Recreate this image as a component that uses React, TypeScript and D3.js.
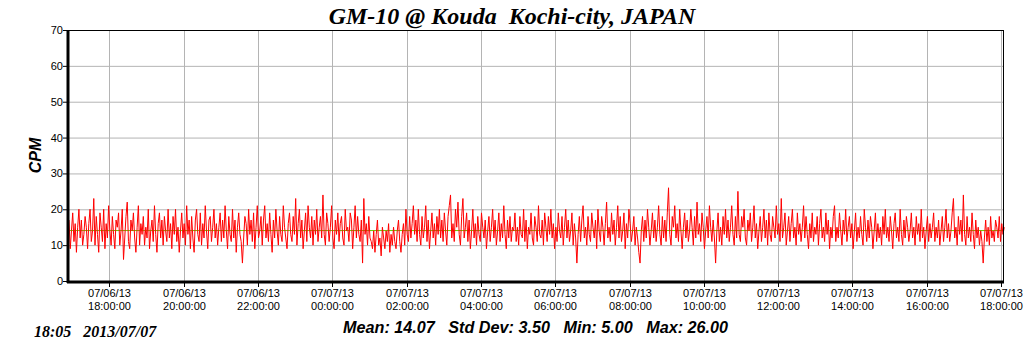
import React from "react";
import * as d3 from "d3";

// CPM readings, one every 2 minutes from 07/06/13 16:55 to 07/07/13 18:05
const cpm1655 = [17,9,14,19,11,16,8,15,20,12,17,10,13,18,15,9,16,20,11,14,23,10,18,13,8,19,15,11,20,9,16,12,21,14,10,18,13,9,17,15,19,10,14,20,6,12,18,22,11,9,17,14,19,12,8,15,21,10,16,13];
const cpm1855 = [18,10,15,12,20,9,14,17,11,21,13,8,16,19,12,17,10,18,14,11,20,12,16,9,18,13,20,11,15,8,14,19,12,16,10,21,13,17,9,18,12,8,17,20,13,11,19,10,16,12,21,14,9,17,18,11,15,20,12,16];
const cpm2055 = [10,15,19,11,17,12,21,14,9,18,13,11,20,12,17,8,15,19,13,11,5,12,18,16,10,20,13,17,11,19,9,15,21,12,14,18,10,17,21,12,16,11,19,13,8,17,12,20,14,10,18,13,11,21,15,12,9,16,19,13];
const cpm2255 = [11,18,13,23,10,16,20,12,17,9,14,19,11,21,15,12,18,10,17,13,20,11,15,18,12,24,13,10,19,16,11,15,21,12,9,17,13,19,11,16,18,12,10,20,14,15,11,19,17,9,15,21,12,18,13,11,17,5,23,13];
const cpm0055 = [16,10,18,12,11,9,14,8,13,17,10,12,7,15,12,9,14,11,16,8,13,10,15,11,9,14,17,11,8,13,16,10,20,13,11,18,12,16,21,13,17,11,20,13,10,18,12,15,21,11,17,9,14,19,12,16,10,18,13,20];
const cpm0255 = [12,17,11,19,14,10,18,21,24,12,16,11,20,15,22,13,10,18,23,12,15,19,11,17,9,14,20,12,16,10,18,13,11,19,15,12,17,9,14,18,11,15,20,12,17,10,14,19,11,16,12,21,13,9,17,12,18,11,15,14];
const cpm0455 = [19,11,15,10,18,13,12,20,11,17,9,15,13,19,12,10,18,15,11,21,13,12,17,10,19,15,11,18,13,20,12,16,9,15,11,19,14,12,18,10,15,20,12,17,11,14,19,10,16,12,5,13,18,11,17,21,12,15,10,18];
const cpm0655 = [13,11,19,15,12,17,9,20,14,11,18,15,10,16,22,12,15,11,19,13,17,10,15,21,12,18,11,14,19,9,16,12,20,16,11,14,18,10,15,12,8,5,14,18,11,17,12,20,15,10,14,19,12,17,11,15,21,13,10,18];
const cpm0855 = [12,17,11,19,26,13,10,18,15,21,12,16,11,20,14,9,15,19,12,17,11,14,20,15,10,18,12,22,13,16,11,19,15,9,14,18,12,21,15,11,17,12,5,14,19,11,15,10,18,13,20,12,17,11,15,21,13,10,18,12];
const cpm1055 = [25,13,11,18,15,20,12,10,17,14,19,11,15,21,12,16,9,14,18,11,15,20,12,17,10,19,13,11,18,15,12,21,13,16,11,23,12,15,19,10,14,18,11,16,20,12,15,10,19,13,16,11,15,21,12,18,13,9,16,12];
const cpm1255 = [19,11,15,13,18,10,16,20,12,15,11,19,13,17,9,15,12,18,21,11,15,12,19,14,10,17,13,20,11,15,18,12,16,9,14,19,11,15,12,18,13,10,20,15,11,17,12,18,15,9,14,19,11,16,12,15,10,18,13,20];
const cpm1455 = [12,15,11,18,14,9,16,19,12,15,11,20,13,10,17,12,18,15,11,14,19,12,15,10,18,13,16,11,20,12,15,9,14,18,11,16,12,15,19,11,15,12,17,10,14,18,11,15,20,12,16,11,14,19,23,12,15,10,18,13];
const cpm1655b = [17,11,24,13,10,18,12,15,11,19,13,9,17,12,15,10,14,11,5,12,17,11,15,10,18,12,14,11,17,15,12,18,11,16,13,15];

const yTicks = [0, 10, 20, 30, 40, 50, 60, 70];
const meanCpm = 14.07;
const titleText = "GM-10 @ Kouda  Kochi-city, JAPAN";
const stampText = "18:05   2013/07/07";
const statsText = "Mean: 14.07   Std Dev: 3.50   Min: 5.00   Max: 26.00";

const startTime = new Date(2013, 6, 6, 16, 55);
const endTime = new Date(2013, 6, 7, 18, 3);

export default function App() {
  const left = 69, right = 1003, top = 30, bottom = 281;

  const values = [
    ...cpm1655, ...cpm1855, ...cpm2055, ...cpm2255, ...cpm0055, ...cpm0255, ...cpm0455,
    ...cpm0655, ...cpm0855, ...cpm1055, ...cpm1255, ...cpm1455, ...cpm1655b,
  ];
  const data = values.map((v, i) => ({ t: d3.timeMinute.offset(startTime, i * 2), v }));

  const x = d3.scaleTime().domain([startTime, endTime]).range([left, right]);
  const y = d3.scaleLinear().domain([0, 70]).range([bottom, top]);

  const xTicks = d3.timeHour.every(2)!.range(d3.timeHour.offset(startTime, 1), endTime);
  const fmtDate = d3.timeFormat("%m/%d/%y");
  const fmtTime = d3.timeFormat("%H:%M:%S");

  const line = d3
    .line<{ t: Date; v: number }>()
    .x((d) => x(d.t))
    .y((d) => y(d.v));

  const sans = "Arial, 'Liberation Sans', sans-serif";
  const serif = "'Times New Roman', 'Liberation Serif', serif";

  return (
    <svg
      width={1024}
      height={351}
      style={{ position: "absolute", left: 0, top: 0, background: "#fff" }}
    >
      <rect width={1024} height={351} fill="#fff" />
      <text x={512} y={24} textAnchor="middle" fontFamily={serif} fontWeight="bold" fontStyle="italic" fontSize={24} style={{ whiteSpace: "pre" }}>
        {titleText}
      </text>

      {/* grid */}
      {yTicks.slice(1, -1).map((t) => (
        <line key={"gy" + t} x1={left} x2={right} y1={y(t) + 0.5} y2={y(t) + 0.5} stroke="#b4b4b4" />
      ))}
      {xTicks.map((t) => (
        <line key={"gx" + t.getTime()} x1={Math.round(x(t)) + 0.5} x2={Math.round(x(t)) + 0.5} y1={top} y2={bottom} stroke="#b4b4b4" />
      ))}

      <line x1={left} x2={right} y1={y(meanCpm)} y2={y(meanCpm)} stroke="#66cc00" />
      <path d={line(data) ?? ""} fill="none" stroke="#ff0000" strokeWidth={1} />

      {/* frame */}
      <line x1={left} x2={right} y1={top + 0.5} y2={top + 0.5} stroke="#000" />
      <line x1={right + 0.5} x2={right + 0.5} y1={top} y2={bottom} stroke="#000" />
      <line x1={left - 1} x2={left - 1} y1={top} y2={bottom + 2} stroke="#000" strokeWidth={3} />
      <line x1={left - 2} x2={right + 1} y1={bottom + 1} y2={bottom + 1} stroke="#000" strokeWidth={3} />

      {/* y axis */}
      {yTicks.map((t) => (
        <g key={"yt" + t}>
          <line x1={left - 6} x2={left} y1={y(t) + 0.5} y2={y(t) + 0.5} stroke="#000" />
          <text x={63} y={y(t) + 4} textAnchor="end" fontFamily={sans} fontSize={11}>
            {t}
          </text>
        </g>
      ))}
      <text
        transform={`translate(41, ${(top + bottom) / 2}) rotate(-90)`}
        textAnchor="middle"
        fontFamily={sans}
        fontWeight="bold"
        fontStyle="italic"
        fontSize={16}
      >
        CPM
      </text>

      {/* x axis */}
      {xTicks.map((t) => {
        const px = Math.round(x(t)) + 0.5;
        return (
          <g key={"xt" + t.getTime()}>
            <line x1={px} x2={px} y1={bottom} y2={bottom + 6} stroke="#000" />
            <text x={px} y={297} textAnchor="middle" fontFamily={sans} fontSize={11}>
              {fmtDate(t)}
            </text>
            <text x={px} y={310} textAnchor="middle" fontFamily={sans} fontSize={11}>
              {fmtTime(t)}
            </text>
          </g>
        );
      })}

      <text x={34} y={337} fontFamily={serif} fontWeight="bold" fontStyle="italic" fontSize={16} style={{ whiteSpace: "pre" }}>
        {stampText}
      </text>
      <text x={343} y={333} fontFamily={sans} fontWeight="bold" fontStyle="italic" fontSize={16.2} style={{ whiteSpace: "pre" }}>
        {statsText}
      </text>
    </svg>
  );
}
